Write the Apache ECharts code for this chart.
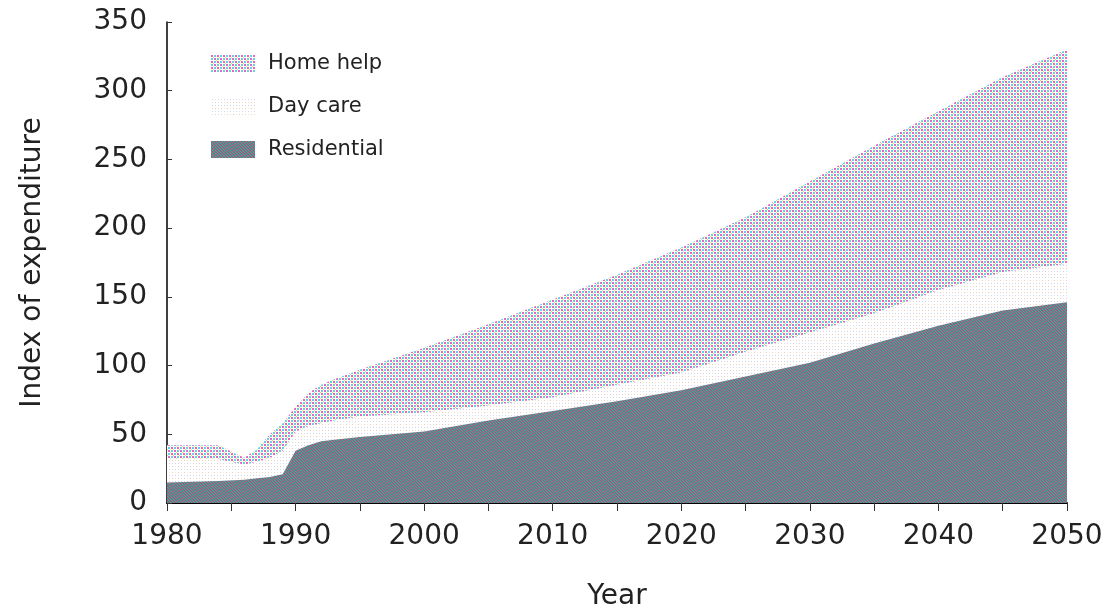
<!DOCTYPE html>
<html>
<head>
<meta charset="utf-8">
<script src="https://cdn.jsdelivr.net/npm/echarts@6/dist/echarts.min.js"></script>
<style>
html,body{margin:0;padding:0;background:#fff;}
#chart{width:1106px;height:616px;}
</style>
</head>
<body>
<div id="chart"></div>
<script>
// ---- data ----
const years = [1980,1984,1986,1987,1988,1989,1990,1991,1992,1993,1995,2000,2005,2010,2015,2020,2025,2030,2035,2040,2045,2050];
const residential = [15,16,17,18,19,21,38,42,45,46,48,52,60,67,74,82,92,102,116,129,140,146];
const dayCare     = [17,16,11,12,14,17,14,14,13,14,15,14,11,10,12,13,18,22,22,26,28,28];
const homeHelp    = [10,10,5,9,17,20,18,24,28,30,34,47,59,71,80,91,98,110,122,130,142,156];
const stackOrder  = ['Residential','Day care','Home help'];   // bottom to top
const legendOrder = ['Home help','Day care','Residential'];
const yTicks = [0,50,100,150,200,250,300,350];
const xTicks = [1980,1990,2000,2010,2020,2030,2040,2050];

// ---- halftone-like fill patterns ----
function makePattern(size, bg, dots) {
  const c = document.createElement('canvas');
  c.width = size; c.height = size;
  const ctx = c.getContext('2d');
  ctx.fillStyle = bg; ctx.fillRect(0,0,size,size);
  dots.forEach(d => { ctx.fillStyle = d[4]; ctx.fillRect(d[0], d[1], d[2], d[3]); });
  return { image: c, repeat: 'repeat' };
}
function residentialPattern() {
  const cols = ['#c0408e', '#38b08e', '#5a8a86'];
  const dots = [];
  for (let r = 0; r < 3; r++) for (let c = 0; c < 3; c++) dots.push([c, r, 1, 1, cols[(c - r + 3) % 3]]);
  return makePattern(3, '#ffffff', dots);
}
const patHome = makePattern(6, '#ffffff', [
  [0,0,2,2,'#e864c0'], [3,0,2,2,'#5ed2e8'], [0,3,2,2,'#5ed2e8'], [3,3,2,2,'#e864c0'],
  [2,2,1,1,'#e8dc60'], [5,5,1,1,'#e8dc60']
]);
const patDay = makePattern(6, '#ffffff', [
  [1,1,1,1,'#ecc4e0'], [4,1,1,1,'#bfeaf2'], [1,4,1,1,'#efeab8'], [4,4,1,1,'#ecc4e0']
]);
const patRes = residentialPattern();
const patterns = { 'Residential': patRes, 'Day care': patDay, 'Home help': patHome };
const valuesByName = { 'Residential': residential, 'Day care': dayCare, 'Home help': homeHelp };

// cumulative tops of each band (stacked areas drawn as overlapping areas)
const cumulative = {};
let running = years.map(() => 0);
stackOrder.forEach(n => {
  running = running.map((v, i) => v + valuesByName[n][i]);
  cumulative[n] = running.slice();
});

const font = 'DejaVu Sans';
const chart = echarts.init(document.getElementById('chart'), null, { renderer: 'canvas' });
chart.setOption({
  animation: false,
  backgroundColor: '#ffffff',
  grid: { left: 167, right: 39, top: 22, bottom: 107 },
  legend: {
    orient: 'vertical', left: 206, top: 48,
    itemWidth: 44, itemHeight: 17, itemGap: 22,
    icon: 'rect',
    textStyle: { fontFamily: font, fontSize: 21, color: '#222', padding: [0,0,0,8] },
    data: legendOrder.map(n => ({ name: n, itemStyle: { color: patterns[n] } }))
  },
  xAxis: {
    type: 'value', min: 1980, max: 2050, interval: 10,
    name: 'Year', nameLocation: 'middle', nameGap: 80,
    nameTextStyle: { fontFamily: font, fontSize: 28, color: '#222' },
    axisLine: { show: true, lineStyle: { color: '#000', width: 2 } },
    axisTick: { show: true, length: 8, lineStyle: { color: '#333' } },
    minorTick: { show: true, splitNumber: 2, length: 8, lineStyle: { color: '#333' } },
    splitLine: { show: false },
    axisLabel: { fontFamily: font, fontSize: 28, color: '#222', margin: 20,
      formatter: v => xTicks.includes(v) ? String(v) : '' }
  },
  yAxis: {
    type: 'value', min: 0, max: 350, interval: 50,
    name: 'Index of expenditure', nameLocation: 'middle', nameGap: 120,
    nameTextStyle: { fontFamily: font, fontSize: 28, color: '#222' },
    axisLine: { show: true, lineStyle: { color: '#000', width: 1.5 } },
    axisTick: { show: true, inside: true, length: 5, lineStyle: { color: '#333' } },
    splitLine: { show: false },
    axisLabel: { fontFamily: font, fontSize: 28, color: '#222', margin: 20,
      formatter: v => yTicks.includes(v) ? String(v) : '' }
  },
  series: stackOrder.slice().reverse().map((n, k) => ({
    name: n, type: 'line',
    data: years.map((y, i) => [y, cumulative[n][i]]),
    showSymbol: false, symbol: 'none',
    lineStyle: { width: 0, opacity: 0 },
    itemStyle: { color: patterns[n] },
    areaStyle: { color: patterns[n], opacity: 1, origin: 'start' },
    emphasis: { disabled: true },
    z: 1 + k
  }))
});
</script>
</body>
</html>
